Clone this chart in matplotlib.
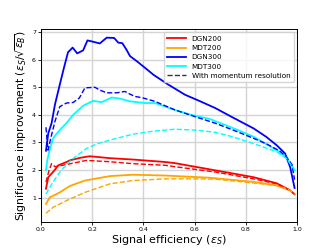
import matplotlib
matplotlib.use("Agg")
import matplotlib.pyplot as plt

# DGN300 (blue)
dgn300_x = [0.02, 0.029, 0.042, 0.055, 0.074, 0.09, 0.106, 0.124, 0.142, 0.165, 0.182, 0.205, 0.23,
            0.257, 0.286, 0.302, 0.318, 0.335, 0.348, 0.374, 0.406, 0.44, 0.497, 0.5625, 0.62, 0.68,
            0.75, 0.83, 0.88, 0.92, 0.953, 0.973, 0.99]
dgn300_y = [2.7, 3.33, 3.7, 4.37, 5.1, 5.7, 6.27, 6.44, 6.23, 6.34, 6.7, 6.65, 6.59,
            6.8, 6.79, 6.62, 6.6, 6.35, 6.13, 5.95, 5.71, 5.45, 5.1, 4.73, 4.5, 4.25,
            3.9, 3.51, 3.2, 2.9, 2.6, 2.1, 1.35]
dgn300_res_x = [0.02, 0.028, 0.04, 0.055, 0.074, 0.1, 0.126, 0.15, 0.172, 0.211, 0.23, 0.257, 0.296,
                0.328, 0.348, 0.367, 0.4, 0.445, 0.523, 0.6, 0.68, 0.75, 0.83, 0.88, 0.934, 0.96,
                0.98, 0.99]
dgn300_res_y = [3.55, 2.72, 3.2, 3.76, 4.3, 4.43, 4.45, 4.61, 4.98, 5.0, 4.9, 4.8, 4.8,
                4.85, 4.75, 4.67, 4.61, 4.49, 4.18, 3.94, 3.7, 3.45, 3.15, 2.95, 2.68, 2.45,
                2.2, 1.65]

# MDT300 (cyan)
mdt300_x = [0.02, 0.025, 0.035, 0.048, 0.06, 0.074, 0.1, 0.126, 0.165, 0.204, 0.237, 0.276, 0.309,
            0.348, 0.406, 0.445, 0.523, 0.588, 0.66, 0.75, 0.83, 0.92, 0.96, 0.99]
mdt300_y = [1.99, 2.35, 2.75, 3.15, 3.3, 3.45, 3.7, 4.0, 4.33, 4.51, 4.46, 4.63, 4.59,
            4.49, 4.43, 4.43, 4.18, 4.0, 3.85, 3.52, 3.21, 2.72, 2.45, 1.99]
mdt300_res_x = [0.02, 0.04, 0.061, 0.08, 0.1, 0.13, 0.178, 0.22, 0.27, 0.36, 0.44, 0.523, 0.6,
                0.68, 0.75, 0.83, 0.92, 0.96, 0.99]
mdt300_res_y = [1.13, 1.45, 1.75, 2.0, 2.2, 2.45, 2.78, 2.95, 3.09, 3.3, 3.41, 3.48, 3.45,
                3.37, 3.2, 2.96, 2.66, 2.41, 2.0]

# DGN200 (red)
dgn200_x = [0.02, 0.029, 0.048, 0.068, 0.1, 0.113, 0.152, 0.19, 0.27, 0.36, 0.487, 0.523, 0.68,
            0.83, 0.92, 0.973, 0.99]
dgn200_y = [1.32, 1.74, 1.93, 2.17, 2.29, 2.35, 2.44, 2.5, 2.43, 2.38, 2.29, 2.25, 1.99,
            1.74, 1.52, 1.26, 1.12]
dgn200_res_x = [0.02, 0.032, 0.042, 0.055, 0.1, 0.178, 0.27, 0.36, 0.487, 0.523, 0.68, 0.83, 0.92,
                0.973, 0.99]
dgn200_res_y = [1.56, 1.99, 2.23, 2.12, 2.2, 2.35, 2.3, 2.23, 2.17, 2.12, 1.93, 1.68, 1.5,
                1.26, 1.12]

# MDT200 (orange)
mdt200_x = [0.02, 0.035, 0.055, 0.074, 0.113, 0.172, 0.27, 0.36, 0.487, 0.66, 0.83, 0.92, 0.973, 0.99]
mdt200_y = [0.77, 1.01, 1.1, 1.19, 1.42, 1.62, 1.78, 1.83, 1.8, 1.72, 1.57, 1.44, 1.26, 1.13]
mdt200_res_x = [0.02, 0.048, 0.1, 0.172, 0.27, 0.36, 0.487, 0.6, 0.68, 0.83, 0.92, 0.973, 0.99]
mdt200_res_y = [0.43, 0.65, 0.89, 1.19, 1.5, 1.62, 1.68, 1.68, 1.67, 1.53, 1.44, 1.26, 1.13]

fig = plt.figure(figsize=(3.32, 2.49), dpi=100)
ax = fig.add_axes([0.123, 0.108, 0.772, 0.776])

ax.plot(dgn200_x, dgn200_y, color="red", lw=1.3, label="DGN200")
ax.plot(mdt200_x, mdt200_y, color="orange", lw=1.3, label="MDT200")
ax.plot(dgn300_x, dgn300_y, color="blue", lw=1.3, label="DGN300")
ax.plot(mdt300_x, mdt300_y, color="cyan", lw=1.3, label="MDT300")

ax.plot(dgn200_res_x, dgn200_res_y, color="red", lw=1.0, ls="--")
ax.plot(mdt200_res_x, mdt200_res_y, color="orange", lw=1.0, ls="--")
ax.plot(dgn300_res_x, dgn300_res_y, color="blue", lw=1.0, ls="--")
ax.plot(mdt300_res_x, mdt300_res_y, color="cyan", lw=1.0, ls="--")
ax.plot([], [], color="#333344", lw=1.0, ls="--", label="With momentum resolution")

ax.set_xlim(0, 1)
ax.grid(True, color="#d4d4d4", lw=1.0)
ax.tick_params(labelsize=4.5, length=2, width=0.6, pad=1.5)
for s in ax.spines.values():
    s.set_linewidth(0.7)
ax.set_xlabel(r"Signal efficiency ($\epsilon_S$)", fontsize=8, labelpad=1)
ax.set_ylabel(r"Significance improvement ($\epsilon_S/\sqrt{\epsilon_B}$)", fontsize=7.8, labelpad=2)
ax.legend(loc="upper right", fontsize=5.2, handlelength=2.6, borderpad=0.45, labelspacing=0.45)

fig.savefig("out.png", dpi=100)
